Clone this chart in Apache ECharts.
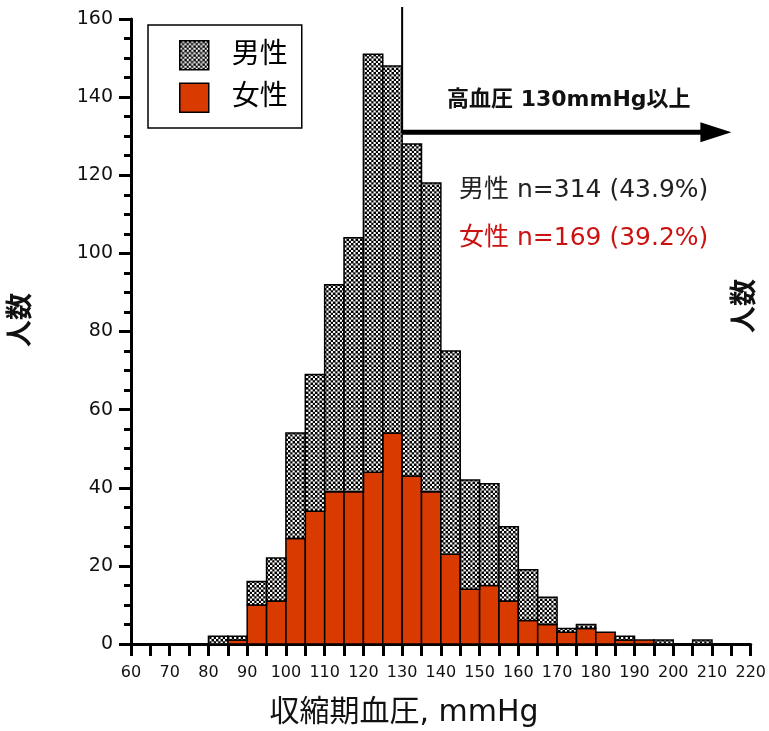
<!DOCTYPE html>
<html><head><meta charset="utf-8">
<script src="https://cdn.jsdelivr.net/npm/echarts@6/dist/echarts.min.js"></script>
<style>html,body{margin:0;padding:0;background:#fff}#c{width:769px;height:731px}</style>
</head><body><div id="c"></div>
<script>
// ---- data ----
const binStarts    = [80,85,90,95,100,105,110,115,120,125,130,135,140,145,150,155,160,165,170,175,180,185,190,195,200,205];
const binWidth     = 5;
const femaleCounts = [0, 1,10,11, 27, 34, 39, 39, 44, 54, 43, 39, 23, 14, 15, 11,  6,  5,  3,  4,  3,  1,  1,  0,  0,  0];
const maleCounts   = [2, 1, 6,11, 27, 35, 53, 65,107, 94, 85, 79, 52, 28, 26, 19, 13,  7,  1,  1,  0,  1,  0,  1,  0,  1];
const seriesNames  = ['男性','女性'];
const xTicks = {min:60, max:220, step:5, labelStep:10};
const yTicks = {min:0, max:160, step:20};
const thresholdValue = 130;
const annotationTitle = '高血圧 130mmHg以上';
const maleNote   = '男性 n=314 (43.9%)';
const femaleNote = '女性 n=169 (39.2%)';
const xName = '収縮期血圧, mmHg';
const yName = '人数';

// ---- styles ----
const FONT = "'DejaVu Sans','Noto Sans CJK JP',sans-serif";
const RED = '#d83a00';
function checker(){
  const c = document.createElement('canvas'); c.width = 9; c.height = 9;
  const g = c.getContext('2d');
  g.fillStyle = '#fff'; g.fillRect(0,0,9,9);
  g.fillStyle = '#000';
  g.fillRect(0,0,2.5,2.5); g.fillRect(4.5,0,2.5,2.5);
  g.fillRect(2.25,2.25,2.25,2.25); g.fillRect(6.75,2.25,2.25,2.25);
  g.fillRect(0,4.5,2.5,2.5); g.fillRect(4.5,4.5,2.5,2.5);
  g.fillRect(2.25,6.75,2.25,2.25); g.fillRect(6.75,6.75,2.25,2.25);
  return {image: c, repeat: 'repeat'};
}
const PATTERN = checker();

const femaleData = binStarts.map((b,i)=>[b, b+binWidth, 0, femaleCounts[i]]);
const maleData   = binStarts.map((b,i)=>[b, b+binWidth, femaleCounts[i], femaleCounts[i]+maleCounts[i]]);

function makeRender(fill){
  return function(params, api){
    const y0 = api.value(2), y1 = api.value(3);
    if (y1 - y0 <= 0) return null;
    const p0 = api.coord([api.value(0), y0]);
    const p1 = api.coord([api.value(1), y1]);
    return {type:'rect', shape:{x:p0[0], y:p1[1], width:p1[0]-p0[0], height:p0[1]-p1[1]},
            style:{fill: fill, stroke:'#000', lineWidth:1.5}};
  };
}

const chart = echarts.init(document.getElementById('c'), null, {renderer:'canvas'});
chart.setOption({
  animation:false,
  backgroundColor:'#fff',
  grid:{left:131, right:16, top:19, bottom:87},
  legend:{
    orient:'vertical', left:148, top:25,
    padding:[15,14,15,31], borderColor:'#000', borderWidth:1.5,
    itemWidth:29, itemHeight:29, itemGap:12, icon:'rect',
    textStyle:{fontSize:28, fontFamily:FONT, color:'#000', padding:[0,0,0,18]},
    data:[
      {name:seriesNames[0], itemStyle:{color:PATTERN, borderColor:'#000', borderWidth:1.5}},
      {name:seriesNames[1], itemStyle:{color:RED, borderColor:'#000', borderWidth:1.5}}
    ]
  },
  xAxis:{
    type:'value', min:xTicks.min, max:xTicks.max, interval:xTicks.step,
    axisLine:{lineStyle:{color:'#000', width:3}},
    axisTick:{length:12, lineStyle:{color:'#000', width:3}},
    axisLabel:{margin:21, fontSize:16, fontFamily:FONT, color:'#111',
      formatter:v=> (v % xTicks.labelStep === 0 ? String(v) : '')},
    splitLine:{show:false}
  },
  yAxis:{
    type:'value', min:yTicks.min, max:yTicks.max, interval:yTicks.step,
    axisLine:{show:true, lineStyle:{color:'#000', width:3}},
    axisTick:{show:true, length:12, lineStyle:{color:'#000', width:3}},
    minorTick:{show:true, splitNumber:4, length:7, lineStyle:{color:'#000', width:3}},
    axisLabel:{margin:18, fontSize:19, fontFamily:FONT, color:'#111'},
    splitLine:{show:false}
  },
  series:[
    {name:seriesNames[1], type:'custom', data:femaleData, renderItem:makeRender(RED),
     itemStyle:{color:RED}, encode:{x:[0,1], y:[2,3]}},
    {name:seriesNames[0], type:'custom', data:maleData, renderItem:makeRender(PATTERN),
     itemStyle:{color:PATTERN}, encode:{x:[0,1], y:[2,3]}}
  ]
});

// ---- annotations positioned through the axes ----
const pT = chart.convertToPixel({gridIndex:0}, [thresholdValue, 131]);
const pE = chart.convertToPixel({gridIndex:0}, [215, 131]);
const xT = pT[0], yA = pT[1], xEnd = pE[0];
chart.setOption({
  graphic:[
    {type:'line', shape:{x1:xT, y1:7, x2:xT, y2:yA}, style:{stroke:'#000', lineWidth:2}, z:10},
    {type:'line', shape:{x1:xT, y1:yA, x2:xEnd-26, y2:yA}, style:{stroke:'#000', lineWidth:5}, z:10},
    {type:'polygon', shape:{points:[[xEnd-31,yA-10],[xEnd,yA],[xEnd-31,yA+10]]}, style:{fill:'#000'}, z:10},
    {type:'text', x:447, y:100, style:{text:annotationTitle, font:"bold 22px "+FONT, fill:'#111',
      textAlign:'left', textVerticalAlign:'middle', verticalAlign:'middle'}, z:10},
    {type:'text', x:459, y:190, style:{text:maleNote, font:"25px "+FONT, fill:'#222',
      textAlign:'left', textVerticalAlign:'middle', verticalAlign:'middle'}, z:10},
    {type:'text', x:459, y:238, style:{text:femaleNote, font:"25px "+FONT, fill:'#cc1111',
      textAlign:'left', textVerticalAlign:'middle', verticalAlign:'middle'}, z:10},
    {type:'text', x:404, y:713, style:{text:xName, font:"30px "+FONT, fill:'#111',
      textAlign:'center', textVerticalAlign:'middle', verticalAlign:'middle'}, z:10},
    {type:'text', x:22, y:320, rotation:Math.PI/2, style:{text:yName, font:"bold 27px "+FONT, fill:'#111',
      textAlign:'center', textVerticalAlign:'middle', verticalAlign:'middle'}, z:10},
    {type:'text', x:746, y:306, rotation:Math.PI/2, style:{text:yName, font:"bold 27px "+FONT, fill:'#111',
      textAlign:'center', textVerticalAlign:'middle', verticalAlign:'middle'}, z:10}
  ]
});
</script></body></html>
